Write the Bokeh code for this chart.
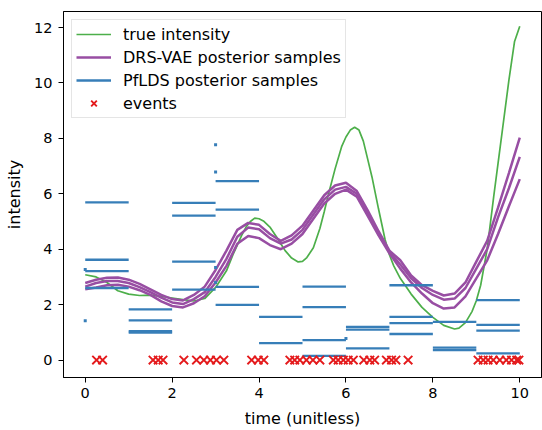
from bokeh.plotting import figure
from bokeh.models import Range1d, FixedTicker, ColumnDataSource
from bokeh.embed import file_html
from bokeh.resources import INLINE

# ---- data ----
t_true = [0, 0.25, 0.5, 0.75, 1.0, 1.25, 1.5, 1.75, 2.0, 2.25, 2.5, 2.75, 3.0, 3.25, 3.4,
          3.5, 3.6, 3.7, 3.8, 3.9, 4.0, 4.1, 4.25, 4.4, 4.5, 4.6, 4.75, 4.9, 5.0, 5.1,
          5.25, 5.4, 5.5, 5.6, 5.75, 5.9, 6.0, 6.1, 6.2, 6.3, 6.4, 6.5, 6.6, 6.75, 6.9,
          7.0, 7.1, 7.25, 7.5, 7.75, 8.0, 8.25, 8.5, 8.6, 8.75, 8.9, 9.0, 9.1, 9.25, 9.4,
          9.5, 9.6, 9.75, 9.88, 10.0]
true_intensity = [3.08, 3.0, 2.8, 2.5, 2.38, 2.33, 2.34, 2.3, 2.24, 2.18, 2.13, 2.22, 2.62, 3.22, 3.8,
                  4.15, 4.5, 4.8, 5.0, 5.12, 5.1, 5.02, 4.8, 4.45, 4.2, 3.95, 3.68, 3.54, 3.56, 3.7,
                  4.05, 4.75, 5.35, 6.0, 6.9, 7.7, 8.05, 8.3, 8.4, 8.3, 7.9, 7.25, 6.6, 5.45, 4.35,
                  3.8, 3.4, 2.95, 2.38, 1.9, 1.54, 1.25, 1.12, 1.15, 1.35, 1.75, 2.14, 2.7, 4.0, 5.9,
                  7.1, 8.3, 10.1, 11.5, 12.05]

t_drs = [i * 0.25 for i in range(41)]
drs_sample_1 = [2.78, 2.9, 2.97, 2.98, 2.9, 2.75, 2.55, 2.35, 2.2, 2.15, 2.35, 2.65, 3.25, 3.95, 4.7,
                4.95, 4.88, 4.55, 4.3, 4.5, 4.85, 5.4, 5.95, 6.3, 6.4, 6.1, 5.4, 4.65, 3.95, 3.6,
                3.05, 2.7, 2.5, 2.33, 2.4, 2.8, 3.55, 4.3, 5.5, 6.75, 8.03]
drs_sample_2 = [2.65, 2.78, 2.85, 2.85, 2.78, 2.63, 2.45, 2.25, 2.08, 2.02, 2.2, 2.45, 3.0, 3.65, 4.45,
                4.78, 4.72, 4.4, 4.2, 4.35, 4.7, 5.25, 5.8, 6.15, 6.25, 6.0, 5.3, 4.55, 3.9, 3.45,
                2.95, 2.6, 2.35, 2.18, 2.22, 2.6, 3.3, 4.0, 5.15, 6.2, 7.33]
drs_sample_3 = [2.55, 2.62, 2.7, 2.72, 2.65, 2.52, 2.35, 2.12, 1.95, 1.9, 2.05, 2.3, 2.8, 3.4, 4.2,
                4.48, 4.4, 4.15, 4.0, 4.2, 4.55, 5.1, 5.65, 6.0, 6.15, 5.9, 5.2, 4.5, 3.85, 3.3,
                2.8, 2.4, 2.05, 1.86, 1.9, 2.3, 2.95, 3.6, 4.55, 5.55, 6.53]

pf_bin_start = [0, 0, 0, 0, 1, 1, 1, 1, 2, 2, 2, 2, 3, 3, 3, 3, 4, 4, 5, 5, 5, 5,
                6, 6, 6, 7, 7, 7, 7, 8, 8, 8, 9, 9, 9, 9]
pf_bin_end = [1, 1, 1, 1, 2, 2, 2, 2, 3, 3, 3, 3, 4, 4, 4, 4, 5, 5, 6, 6, 6, 6,
              7, 7, 7, 8, 8, 8, 8, 9, 9, 9, 10, 10, 10, 10]
pf_value = [5.69, 3.62, 3.21, 2.6, 1.83, 1.43, 1.04, 0.99, 5.67, 5.21, 3.55, 2.54,
            6.46, 5.43, 2.64, 1.99, 1.56, 0.61, 2.65, 1.91, 0.72, 0.15,
            1.2, 1.1, 0.42, 2.7, 1.56, 1.33, 0.94, 1.38, 0.45, 0.36, 2.16, 1.27, 1.06, 0.24]
pf_dot_x = [0, 0, 3, 3, 3, 3, 6]
pf_dot_y = [3.27, 1.42, 7.77, 6.79, 3.34, 2.8, 0.78]

event_times = [0.26, 0.40, 1.56, 1.68, 1.79, 2.27, 2.56, 2.73, 2.88, 3.02, 3.19, 3.83, 3.98, 4.11,
               4.71, 4.82, 4.94, 5.09, 5.24, 5.40, 5.71, 5.82, 5.94, 6.05, 6.17, 6.41, 6.55, 6.66,
               6.93, 7.05, 7.15, 7.43, 9.04, 9.16, 9.27, 9.39, 9.54, 9.69, 9.81, 9.93, 9.98]
event_level = [0.0] * len(event_times)

x_ticks = [0, 2, 4, 6, 8, 10]
y_ticks = [0, 2, 4, 6, 8, 10, 12]

GREEN, PURPLE, BLUE, RED = "#4daf4a", "#984ea3", "#377eb8", "#e41a1c"
FONT = "DejaVu Sans"

p = figure(width=542, height=430, output_backend="svg", toolbar_location=None,
           x_range=Range1d(-0.5, 10.5), y_range=Range1d(-0.63, 12.58))
p.min_border_left = 63
p.min_border_right = 1
p.min_border_top = 11
p.min_border_bottom = 0
p.background_fill_color = "white"
p.border_fill_color = "white"
p.outline_line_color = "black"
p.outline_line_width = 1
p.xgrid.visible = False
p.ygrid.visible = False

p.line(t_true, true_intensity, line_color=GREEN, line_width=1.7, legend_label="true intensity")
p.line(t_drs, drs_sample_1, line_color=PURPLE, line_width=2.5, legend_label="DRS-VAE posterior samples")
p.line(t_drs, drs_sample_2, line_color=PURPLE, line_width=2.5)
p.line(t_drs, drs_sample_3, line_color=PURPLE, line_width=2.5)

seg_src = ColumnDataSource(dict(x0=pf_bin_start, x1=pf_bin_end, y=pf_value))
p.segment(x0="x0", y0="y", x1="x1", y1="y", source=seg_src, line_color=BLUE, line_width=2.3,
          legend_label="PfLDS posterior samples")
p.scatter(pf_dot_x, pf_dot_y, marker="square", size=3, fill_color=BLUE, line_color=None)

p.scatter(event_times, event_level, marker="x", size=12, line_color=RED, line_width=1.9,
          legend_label="events")

for ax, ticks in ((p.xaxis[0], x_ticks), (p.yaxis[0], y_ticks)):
    ax.ticker = FixedTicker(ticks=ticks)
    ax.minor_tick_line_color = None
    ax.major_tick_out = 5
    ax.major_tick_in = 0
    ax.major_tick_line_color = "black"
    ax.axis_line_color = "black"
    ax.major_label_text_font = FONT
    ax.major_label_text_font_size = "14.5px"
    ax.major_label_text_color = "black"
    ax.axis_label_text_font = FONT
    ax.axis_label_text_font_size = "16px"
    ax.axis_label_text_font_style = "normal"
    ax.axis_label_text_color = "black"

p.xaxis.axis_label = "time (unitless)"
p.yaxis.axis_label = "intensity"
p.xaxis.major_label_standoff = 5
p.xaxis.axis_label_standoff = 8
p.yaxis.major_label_standoff = 6
p.yaxis.axis_label_standoff = 7

lg = p.legend[0]
lg.location = "top_left"
lg.margin = 8
lg.padding = 4
lg.spacing = 3
lg.glyph_width = 35
lg.glyph_height = 20
lg.label_height = 20
lg.label_standoff = 12
lg.label_text_font = FONT
lg.label_text_font_size = "16px"
lg.label_text_color = "black"
lg.border_line_color = "#cccccc"
lg.border_line_width = 1
lg.background_fill_alpha = 0.8

open("out.html", "w").write(file_html(p, INLINE))
